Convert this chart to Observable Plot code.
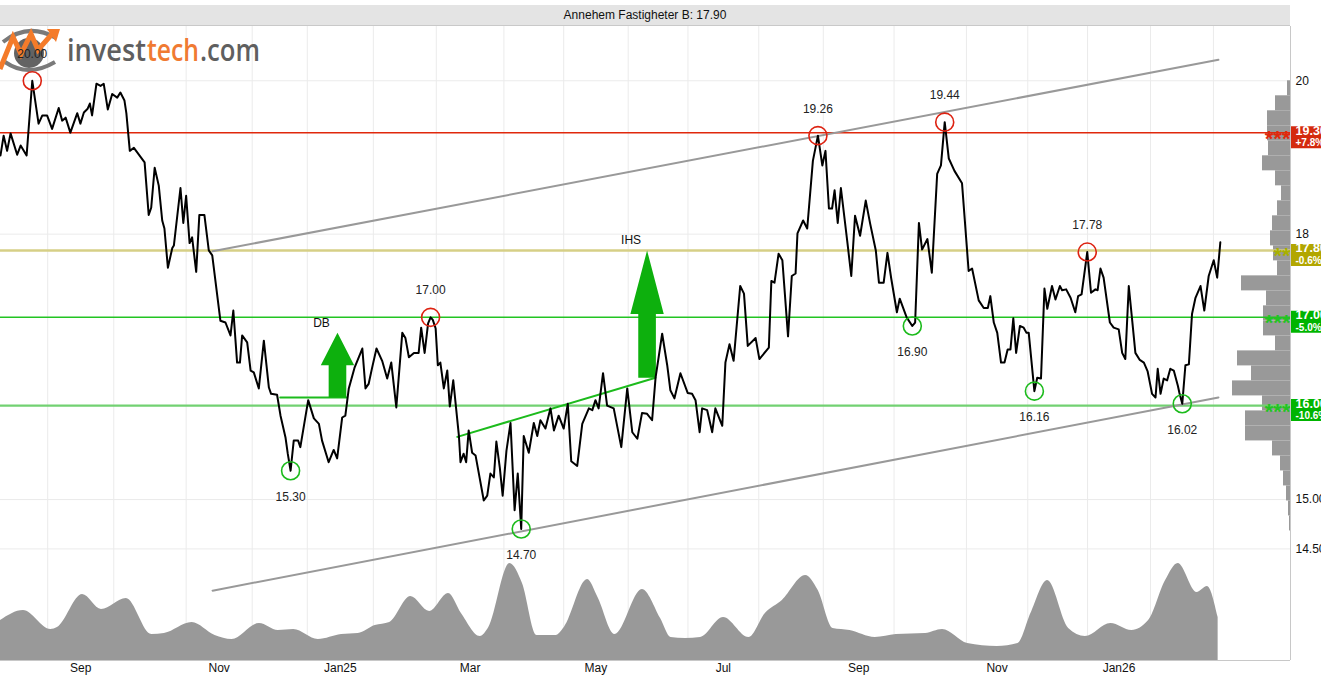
<!DOCTYPE html>
<html><head><meta charset="utf-8">
<script src="https://cdn.jsdelivr.net/npm/d3@7"></script>
<script src="https://cdn.jsdelivr.net/npm/@observablehq/plot@0.6"></script>
<style>
html,body{margin:0;padding:0;overflow:hidden;background:#fff;}
#wrap{position:relative;width:1321px;height:680px;overflow:hidden;font-family:"Liberation Sans",Arial,sans-serif;}
#wrap > svg{position:absolute;left:0;top:0;}
#header{position:absolute;left:0;top:5px;width:1290px;height:20px;background:#e4e4e4;border-bottom:1px solid #c9c9c9;font-size:12px;line-height:20px;text-align:center;color:#111;}
</style></head><body><div id="wrap"></div><script>
// ---------------- DATA ----------------
const title = "Annehem Fastigheter B: 17.90";

// trading-day index and closing price
const days = [0,1.0,2.1,3.2,5.3,6.4,8.3,10.1,12.1,13.3,
14.8,16.4,18.5,19.6,20.7,22.2,24.4,25.4,26.5,27.7,
28.4,29.1,30.5,31.8,32.8,34.1,35.5,37.1,38.1,39.4,
40.0,41.1,42.4,45.8,47.1,47.9,49.0,50.3,51.4,52.1,
53.2,54.6,55.1,57.2,58.1,59.0,60.1,60.9,62.2,63.2,
64.8,66.2,67.3,69.9,71.5,73.1,74.0,75.2,76.1,76.8,
78.4,79.5,80.5,82.1,83.7,85.3,86.0,87.9,89.0,90.6,
91.3,92.2,93.2,94.6,95.3,97.8,99.6,101.2,102.2,104.3,
105.9,107.0,108.6,109.6,110.7,112.5,115.0,116.0,117.0,118.1,
119.5,121.3,122.9,124.2,125.8,127.7,128.7,129.8,131.4,132.9,
133.7,134.8,135.9,136.7,137.4,138.3,139.0,139.8,140.9,142.0,
142.8,143.9,145.7,146.2,147.2,148.0,148.8,149.9,151.0,153.6,
154.7,155.7,156.8,157.6,158.7,159.6,160.8,162.1,163.4,164.4,
165.5,166.3,167.9,169.5,170.6,171.6,173.2,174.8,175.9,177.4,
179.0,180.3,181.4,183.3,184.9,187.0,188.1,189.1,190.1,191.5,
192.8,194.9,197.3,199.2,200.8,202.4,203.9,205.5,207.1,208.2,
210.3,211.9,212.9,214.2,216.1,218.4,219.8,220.9,222.2,223.0,
224.6,226.2,227.2,229.4,230.4,231.7,233.0,235.1,236.3,237.5,
240.0,241.2,244.2,245.0,246.0,247.3,248.5,250.3,251.5,252.7,
253.3,255.1,256.4,258.2,259.8,261.2,262.2,263.3,264.3,265.1,
266.1,267.1,269.1,270.4,271.6,273.2,275.0,276.4,278.2,279.2,
280.7,281.9,283.1,284.9,285.8,288.0,289.8,290.7,291.9,292.9,
294.6,296.0,297.7,298.9,300.1,301.4,303.2,305.6,307.7,308.8,
310.9,312.5,313.8,314.6,315.7,316.8,318.0,319.1,320.1,321.0,
321.9,322.8,324.0,325.2,326.1,326.8,328.6,329.5,330.7,331.8,
332.7,334.2,335.3,336.7,337.4,338.7,340.1,341.6,342.5,343.6,
345.4,346.6,348.0,348.7,349.6,350.6,352.6,353.8,355.4,356.5,
357.5,358.6,359.7,360.7,362.1,363.4,364.6,366.0,367.1,367.8,
368.7,369.7,370.8,371.8,372.9,374.2,374.7,375.6,376.6,377.7,
378.7,379.8,381.4,382.6,384.0,385.6,386.7,387.7];
const closes = [19.00,19.26,19.06,19.29,19.01,19.13,19.00,20.00,19.42,19.53,
19.53,19.35,19.63,19.46,19.50,19.30,19.56,19.42,19.57,19.62,
19.69,19.53,19.96,19.93,19.96,19.61,19.82,19.77,19.84,19.73,
19.56,19.06,19.10,18.91,18.24,18.33,18.84,18.61,18.17,18.07,
17.59,17.83,17.86,18.58,18.14,18.48,17.89,17.96,17.54,18.24,
18.24,17.80,17.74,16.96,16.94,16.79,17.08,16.48,16.48,16.79,
16.71,16.39,16.37,16.19,16.73,16.20,16.13,16.12,15.89,15.65,
15.48,15.30,15.62,15.62,15.55,16.06,15.86,15.80,15.62,15.39,
15.52,15.43,15.87,15.89,16.19,16.42,16.64,16.19,16.24,16.42,
16.64,16.50,16.30,16.48,15.98,16.82,16.76,16.54,16.59,16.59,
16.88,16.59,16.93,17.00,16.97,16.87,16.45,16.48,16.19,16.39,
15.99,16.28,15.67,15.39,15.48,15.39,15.73,15.49,15.46,14.99,
15.04,15.27,15.23,15.61,15.33,15.04,15.51,15.81,14.89,15.27,
14.70,15.67,15.49,15.81,15.67,15.84,15.75,15.97,15.73,15.89,
15.75,16.02,15.40,15.35,15.80,15.97,15.95,16.06,15.97,16.36,
16.00,15.97,15.55,16.19,15.71,15.64,15.92,15.91,15.84,16.31,
16.81,16.45,16.17,16.08,16.36,16.14,16.13,16.06,15.71,15.97,
15.95,15.71,15.97,15.78,16.48,16.69,16.50,17.37,17.28,16.67,
16.76,16.52,16.65,17.43,17.41,17.76,17.68,16.78,17.49,17.52,
18.01,18.17,18.07,18.93,19.26,18.87,19.06,18.32,18.32,18.55,
18.14,18.58,17.92,17.49,18.23,17.98,18.42,18.13,17.80,17.41,
17.41,17.77,17.46,17.06,17.22,17.00,16.90,16.94,18.14,17.81,
17.94,17.53,18.76,18.87,19.44,18.96,18.80,18.64,17.55,17.58,
17.20,17.11,17.11,17.25,16.94,16.82,16.48,16.48,16.63,16.63,
16.99,16.59,16.90,16.88,16.82,16.82,16.16,16.31,16.30,17.34,
17.10,17.37,17.21,17.37,17.32,17.33,17.23,17.06,17.25,17.27,
17.78,17.29,17.33,17.32,17.58,17.47,16.94,16.88,16.86,16.59,
16.52,17.37,16.96,16.59,16.51,16.48,16.38,16.13,16.09,16.41,
16.13,16.30,16.28,16.41,16.39,16.22,16.14,16.02,16.45,16.46,
17.04,17.23,17.37,17.08,17.49,17.68,17.47,17.90];

// smoothed volume (relative units)
const volDays = [0,7.3,16.0,18.1,26.1,32.1,40.0,48.1,52.1,60.9,68.2,73.6,82.3,88.3,93.2,101.0,108.4,113.7,119.1,123.7,130.4,136.4,142.4,146.5,152.5,155.2,161.9,165.9,170.5,176.6,179.2,186.6,189.9,195.3,204.0,209.8,213.1,217.7,222.5,229.8,237.9,243.1,248.5,255.9,259.9,264.6,270.0,278.0,284.7,294.0,299.4,307.4,316.8,323.4,327.5,332.8,339.5,344.8,352.9,359.6,364.9,370.3,374.3,380.3,383.6,387.0];
const volumes = [40,50,31,33,66,51,62,26,27,38,25,21,37,30,31,21,26,27,35,38,64,49,67,47,24,33,97,77,25,25,33,81,63,26,71,42,23,22,23,43,23,47,60,85,70,32,30,23,26,27,31,17,14,17,47,80,32,24,37,30,40,80,97,68,74,43];

// volume by price (30 log-spaced bins from histLow to histHigh, bottom-up)
const histLow = 14.68, histHigh = 20.00;
const histVolumes = [1,2,4,7,10,18,45,45,28,58,39,53,15,27,27,24,49,13,17,20,18,13,9,15,28,22,23,23,15,3];

// month boundaries (trading-day index) and labels
const monthStarts = [15,36,59,80,97.5,118.5,138.5,160,179,199.5,218.5,241,261.5,284,307,326.5,345.5,365.5,385.5];
const monthLabels = ["Sep","Nov","Jan25","Mar","May","Jul","Sep","Nov","Jan26"];

// price axis
const yTicks = [20, 18, 15, 14.5];
const yTickLabels = ["20","18","15.00","14.50"];

// support / resistance levels
const levelPrices = [19.30, 17.80, 17.00, 16.00];
const levelChanges = ["+7.8%", "-0.6%", "-5.0%", "-10.6%"];
const levelStars = ["***", "**", "***", "***"];

// tops and bottoms
const pivotDays = [10.1, 92.2, 136.7, 165.5, 259.8, 289.8, 300.1, 328.6, 345.4, 375.6];
const pivotPrices = [20.00, 15.30, 17.00, 14.70, 19.26, 16.90, 19.44, 16.16, 17.78, 16.02];
const pivotTypes = ["top","bottom","top","bottom","top","bottom","top","bottom","top","bottom"];

// trend channel
const channelDays = [67.4, 387.1];
const channelUpper = [17.79, 20.29];
const channelLower = [14.09, 16.09];

// patterns: double bottom, inverse head & shoulders
const dbNeckDays = [88.9, 110.0];
const dbNeckPrices = [16.09, 16.09];
const ihsNeckDays = [145.2, 208.2];
const ihsNeckPrices = [15.66, 16.31];
const patternNames = ["DB", "IHS"];
const patternDays = [107.1, 205.5];
const patternBase = [16.09, 16.31];
const patternTarget = [16.82, 17.80];

// ---------------- BUILD ----------------
const W = 1321, H = 680;
const xDomain = [0, 410];
const yDomain = [13.43, 20.76];
const font = '"Liberation Sans", Arial, sans-serif';

const priceRows = days.map((d, i) => ({day: d, close: closes[i]}));
const volRows = volDays.map((d, i) => ({day: d, vol: volumes[i]}));
const step = Math.log(histHigh / histLow) / histVolumes.length;
const histRows = histVolumes.map((v, i) => ({lo: histLow * Math.exp(step * i), hi: histLow * Math.exp(step * (i + 1)), vol: v}));
const labelDays = monthLabels.map((_, i) => (monthStarts[2 * i] + monthStarts[2 * i + 1]) / 2);
const pivots = pivotDays.map((d, i) => ({day: d, price: pivotPrices[i], type: pivotTypes[i]}));
const tops = pivots.filter(p => p.type === "top");
const bottoms = pivots.filter(p => p.type === "bottom");
const upperRows = channelDays.map((d, i) => ({day: d, price: channelUpper[i]}));
const lowerRows = channelDays.map((d, i) => ({day: d, price: channelLower[i]}));
const dbRows = dbNeckDays.map((d, i) => ({day: d, price: dbNeckPrices[i]}));
const ihsRows = ihsNeckDays.map((d, i) => ({day: d, price: ihsNeckPrices[i]}));
const patternRows = patternNames.map((n, i) => ({name: n, day: patternDays[i], target: patternTarget[i]}));
const SHAFT = 2.8, HEAD = 5.3;
const arrowPts = patternNames.flatMap((name, i) => {
  const c = patternDays[i], b = patternBase[i], t = patternTarget[i], m = Math.sqrt(b * t);
  return [[c-SHAFT,b],[c-SHAFT,m],[c-HEAD,m],[c,t],[c+HEAD,m],[c+SHAFT,m],[c+SHAFT,b]].map(([x, y]) => ({name, x, y}));
});

const lineColors = ["#e0280c", "#d6cf86", "#22c422", "#72d172"];
const lineWidths = [1.5, 2.5, 1.5, 2.2];
const boxColors = ["#d42a0e", "#b2a600", "#00b400", "#00b400"];
const starColors = ["#e0280c", "#a8b000", "#22c422", "#22c422"];

const common = {
  width: W, height: H, marginTop: 26, marginRight: 31, marginBottom: 20, marginLeft: 0,
  style: {background: "transparent", fontFamily: font, fontSize: "12px", color: "#111"}
};

const volPlot = Plot.plot({
  ...common,
  x: {domain: xDomain, axis: null},
  y: {domain: [0, 100], range: [660, 560], axis: null},
  marks: [
    Plot.ruleX(monthStarts, {stroke: "#ebebeb", strokeWidth: 1}),
    Plot.areaY(volRows, {x: "day", y: "vol", fill: "#999999", curve: "monotone-x"})
  ]
});

const histPlot = Plot.plot({
  ...common,
  x: {domain: [0, 100], range: [1290, 1190], axis: null},
  y: {type: "log", domain: yDomain, ticks: yTicks, tickFormat: d => yTickLabels[yTicks.indexOf(d)],
      tickSize: 0, tickPadding: 5, axis: "right", label: null},
  marks: [
    Plot.ruleY(yTicks, {stroke: "#ebebeb", strokeWidth: 1}),
    Plot.rectX(histRows, {y1: "lo", y2: "hi", x1: 0, x2: "vol", fill: "#999999"})
  ]
});

const levelMarks = levelPrices.flatMap((p, i) => [
  Plot.ruleY([p], {stroke: lineColors[i], strokeWidth: lineWidths[i]}),
  Plot.text([p], {y: d => d, frameAnchor: "right", textAnchor: "end", text: () => levelStars[i],
                  fill: starColors[i], fontSize: 22, fontWeight: "bold", dy: 6}),
  Plot.ruleY([p], {x1: xDomain[1], x2: xDomain[1] + 15, stroke: boxColors[i], strokeWidth: 22, dy: 4.5}),
  Plot.text([p], {y: d => d, frameAnchor: "right", textAnchor: "start", dx: 5, dy: -2,
                  text: d => d.toFixed(2), fill: "white", fontWeight: "bold", fontSize: 12.5}),
  Plot.text([p], {y: d => d, frameAnchor: "right", textAnchor: "start", dx: 5, dy: 10,
                  text: () => levelChanges[i], fill: "white", fontWeight: "bold", fontSize: 10})
]);

const mainPlot = Plot.plot({
  ...common,
  x: {domain: xDomain, ticks: labelDays, tickFormat: d => monthLabels[labelDays.indexOf(d)],
      tickSize: 0, tickPadding: 3, label: null},
  y: {type: "log", domain: yDomain, axis: null},
  marks: [
    ...levelMarks,
    Plot.line(upperRows, {x: "day", y: "price", stroke: "#999", strokeWidth: 2}),
    Plot.line(lowerRows, {x: "day", y: "price", stroke: "#999", strokeWidth: 2}),
    Plot.line(dbRows, {x: "day", y: "price", stroke: "#1cbb1c", strokeWidth: 2}),
    Plot.line(ihsRows, {x: "day", y: "price", stroke: "#1cbb1c", strokeWidth: 2}),
    Plot.line(arrowPts, {x: "x", y: "y", z: "name", fill: "#0db00d", stroke: "none", curve: "linear"}),
    Plot.text(patternRows, {x: "day", y: "target", text: "name", dx: -16, dy: -10, fill: "#111", fontSize: 12}),
    Plot.line(priceRows, {x: "day", y: "close", stroke: "#000", strokeWidth: 2, strokeLinejoin: "round"}),
    Plot.dot(tops, {x: "day", y: "price", r: 9, stroke: "#dd2211", strokeWidth: 1.6, fill: "none"}),
    Plot.dot(bottoms, {x: "day", y: "price", r: 9, stroke: "#1cbb1c", strokeWidth: 1.6, fill: "none"}),
    Plot.text(tops, {x: "day", y: "price", text: d => d.price.toFixed(2), dy: -27, fill: "#222", fontSize: 12}),
    Plot.text(bottoms, {x: "day", y: "price", text: d => d.price.toFixed(2), dy: 26, fill: "#222", fontSize: 12}),
    Plot.ruleX([xDomain[1]], {stroke: "#c8c8c8"}),
    Plot.ruleY([yDomain[0]], {stroke: "#c8c8c8"})
  ]
});

// ---------------- ASSEMBLE ----------------
const wrap = document.getElementById("wrap");
wrap.appendChild(volPlot);
wrap.appendChild(histPlot);
const logo = document.createElementNS("http://www.w3.org/2000/svg", "svg");
logo.setAttribute("width", "280"); logo.setAttribute("height", "80");
logo.innerHTML = `
 <path d="M3,42 Q28,22 56,38" stroke="#7a7a7a" stroke-width="4" fill="none"/>
 <path d="M5,62 Q28,78 55,62" stroke="#7a7a7a" stroke-width="4" fill="none"/>
 <circle cx="29" cy="53" r="15" fill="#636363"/>
 <polyline points="0,69 13,37 21,54 31,34 38,50 52,34" stroke="#f47b2a" stroke-width="5" fill="none"/>
 <polygon points="47,29 60,29 56,42" fill="#f47b2a"/>
 <g font-family="'Open Sans', sans-serif" font-weight="600" font-size="30">
  <text x="67" y="61" fill="#5f5f5f" textLength="79" lengthAdjust="spacingAndGlyphs">invest</text>
  <text x="147" y="61" fill="#f07a32" textLength="52" lengthAdjust="spacingAndGlyphs">tech</text>
  <text x="200" y="61" fill="#5f5f5f" textLength="60" lengthAdjust="spacingAndGlyphs">.com</text>
 </g>`;
wrap.appendChild(logo);
wrap.appendChild(mainPlot);
const header = document.createElement("div");
header.id = "header";
header.textContent = title;
wrap.appendChild(header);
</script></body></html>
